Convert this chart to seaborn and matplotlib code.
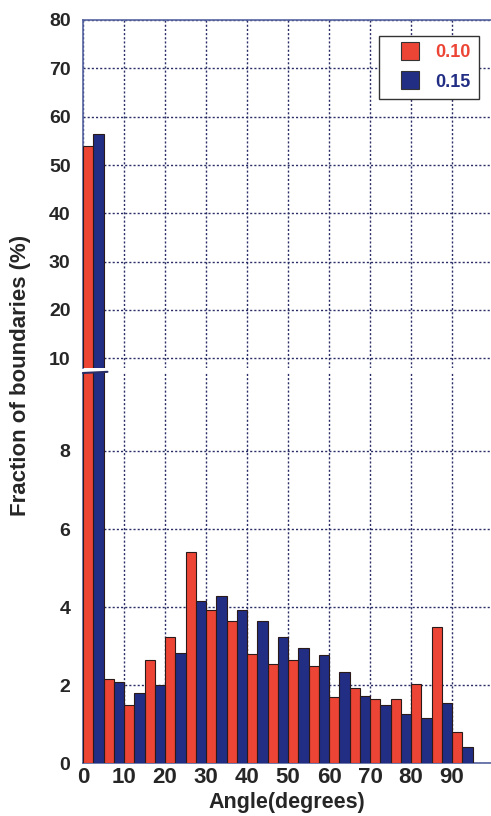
import matplotlib
matplotlib.use('Agg')
import matplotlib.pyplot as plt
from matplotlib.lines import Line2D
import seaborn as sns
import pandas as pd

# bin centres (5 degree bins) and fraction of boundaries (%)
angles = [2.5, 7.5, 12.5, 17.5, 22.5, 27.5, 32.5, 37.5, 42.5, 47.5,
          52.5, 57.5, 62.5, 67.5, 72.5, 77.5, 82.5, 87.5, 92.5]
frac_010 = [53.9, 2.15, 1.49, 2.63, 3.23, 5.40, 3.93, 3.64, 2.79, 2.55,
            2.64, 2.49, 1.68, 1.93, 1.65, 1.65, 2.03, 3.48, 0.80]
frac_015 = [56.4, 2.08, 1.80, 2.00, 2.82, 4.15, 4.27, 3.93, 3.63, 3.24,
            2.94, 2.78, 2.33, 1.72, 1.50, 1.25, 1.15, 1.53, 0.40]
series = ['0.10', '0.15']
colors = ['#ec4535', '#222e84']
x_ticks = [0, 10, 20, 30, 40, 50, 60, 70, 80, 90]
top_ticks = [10, 20, 30, 40, 50, 60, 70, 80]
bot_ticks = [0, 2, 4, 6, 8]

df = pd.DataFrame({
    'angle': angles * 2,
    'frac': frac_010 + frac_015,
    'series': [series[0]] * len(angles) + [series[1]] * len(angles),
})

sns.set_style('white')
plt.rcParams['font.family'] = ['Liberation Sans', 'DejaVu Sans']
plt.rcParams['font.weight'] = 'bold'

spine_c = '#5563a0'
grid_c = '#2a2e66'

fig = plt.figure(figsize=(4.91, 8.16), dpi=100)
left = 83 / 491
width = 1.0 - left
ax_top = fig.add_axes([left, 1 - 368 / 816, width, (368 - 20) / 816])
ax_bot = fig.add_axes([left, 1 - 763 / 816, width, (763 - 373) / 816])

for ax in (ax_top, ax_bot):
    sns.barplot(data=df, x='angle', y='frac', hue='series', palette=colors,
                native_scale=True, width=1.0, errorbar=None, ax=ax,
                saturation=1, edgecolor='#2a1a1a', linewidth=0.8,
                legend=False, zorder=3)
    ax.set_xlim(0, 99.5)
    ax.set_xticks(x_ticks)
    ax.grid(True, color=grid_c, linestyle=(0, (1.5, 1.5)), linewidth=1.0, zorder=0)
    ax.set_axisbelow(True)
    ax.spines['right'].set_visible(False)
    ax.spines['left'].set_color(spine_c)
    ax.spines['left'].set_linewidth(1.2)
    ax.set_xlabel('')
    ax.set_ylabel('')
    ax.tick_params(axis='y', direction='in', length=3, color='#7a3030',
                   labelsize=14, pad=9)
    ax.tick_params(axis='x', direction='in', length=0, labelsize=16, pad=3)

ax_top.set_ylim(8, 80)
ax_top.set_yticks(top_ticks)
ax_top.spines['bottom'].set_visible(False)
ax_top.spines['top'].set_color(spine_c)
ax_top.spines['top'].set_linewidth(1.2)
ax_top.tick_params(axis='x', labelbottom=False)

ax_bot.set_ylim(0, 10)
ax_bot.set_yticks(bot_ticks)
ax_bot.spines['top'].set_visible(False)
ax_bot.spines['bottom'].set_color(spine_c)
ax_bot.spines['bottom'].set_linewidth(1.2)
ax_bot.set_xlabel('Angle(degrees)', fontsize=15.5, fontweight='bold', labelpad=3)

for lab in ax_top.get_yticklabels() + ax_bot.get_yticklabels() + ax_bot.get_xticklabels():
    lab.set_fontweight('bold')

# break mark between the two panels
ax_bot.plot([0, 0.06], [1.0, 1.003], transform=ax_bot.transAxes,
            color='#2a2e66', linewidth=1.5, clip_on=False, zorder=5)

fig.text(0.042, 0.54, 'Fraction of boundaries (%)', rotation=90,
         ha='center', va='center', fontsize=16, fontweight='bold')

handles = [Line2D([], [], marker='s', markersize=13, linestyle='none',
                  markerfacecolor=c, markeredgecolor='#333333',
                  markeredgewidth=0.8) for c in colors]
leg = ax_top.legend(handles, series, loc='upper right',
                    bbox_to_anchor=(479 / 491, 1 - 36 / 816),
                    bbox_transform=fig.transFigure, borderaxespad=0,
                    fancybox=False, framealpha=1, edgecolor='#333333',
                    handlelength=2.6, handletextpad=0.1,
                    borderpad=0.45, labelspacing=0.7,
                    prop={'size': 13, 'weight': 'bold'})
leg.get_frame().set_linewidth(1.0)
for txt, c in zip(leg.get_texts(), colors):
    txt.set_color(c)

fig.savefig('out.png', dpi=100)
